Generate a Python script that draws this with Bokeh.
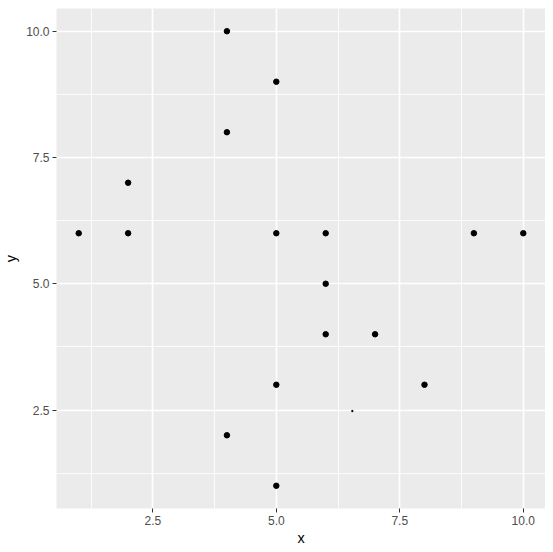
from bokeh.plotting import figure
from bokeh.models import FixedTicker, ColumnDataSource
from bokeh.embed import file_html
from bokeh.resources import INLINE

x = [1, 2, 2, 4, 4, 4, 5, 5, 5, 5, 6, 6, 6, 7, 8, 9, 10]
y = [6, 7, 6, 10, 8, 2, 9, 6, 3, 1, 6, 5, 4, 4, 3, 6, 6]
tiny_x = [6.54]
tiny_y = [2.48]
ticks = [2.5, 5.0, 7.5, 10.0]
tick_labels = ["2.5", "5.0", "7.5", "10.0"]
minor = [1.25, 3.75, 6.25, 8.75]

p = figure(frame_width=489, frame_height=500, x_range=(0.55, 10.45), y_range=(0.55, 10.45),
           output_backend="svg", toolbar_location=None,
           min_border_left=48, min_border_right=0, min_border_top=8, min_border_bottom=36)
p.outline_line_color = None
p.background_fill_color = "#EBEBEB"
p.border_fill_color = "white"

for ax, lbl in ((p.xaxis, "x"), (p.yaxis, "y")):
    ax.ticker = FixedTicker(ticks=ticks, minor_ticks=minor)
    ax.major_label_overrides = {t: l for t, l in zip(ticks, tick_labels)}
    ax.axis_line_color = None
    ax.major_tick_line_color = "#333333"
    ax.major_tick_out = 4
    ax.major_tick_in = 0
    ax.minor_tick_line_color = None
    ax.major_label_text_color = "#4D4D4D"
    ax.major_label_text_font = "Liberation Sans"
    ax.major_label_text_font_size = "12px"
    ax.major_label_standoff = 3
    ax.axis_label = lbl
    ax.axis_label_text_font = "Liberation Sans"
    ax.axis_label_text_font_size = "14.5px"
    ax.axis_label_text_font_style = "normal"
    ax.axis_label_text_color = "black"

p.xaxis.axis_label_standoff = 2
p.yaxis.axis_label_standoff = 4

for g in (p.xgrid, p.ygrid):
    g.ticker = FixedTicker(ticks=ticks, minor_ticks=minor)
    g.grid_line_color = "white"
    g.grid_line_width = 1.6
    g.minor_grid_line_color = "white"
    g.minor_grid_line_width = 0.8

src = ColumnDataSource(dict(x=x, y=y))
p.scatter("x", "y", source=src, size=5.5, color="black")
p.scatter(tiny_x, tiny_y, size=1.2, color="black", marker="square")

open("out.html", "w").write(file_html(p, INLINE))
